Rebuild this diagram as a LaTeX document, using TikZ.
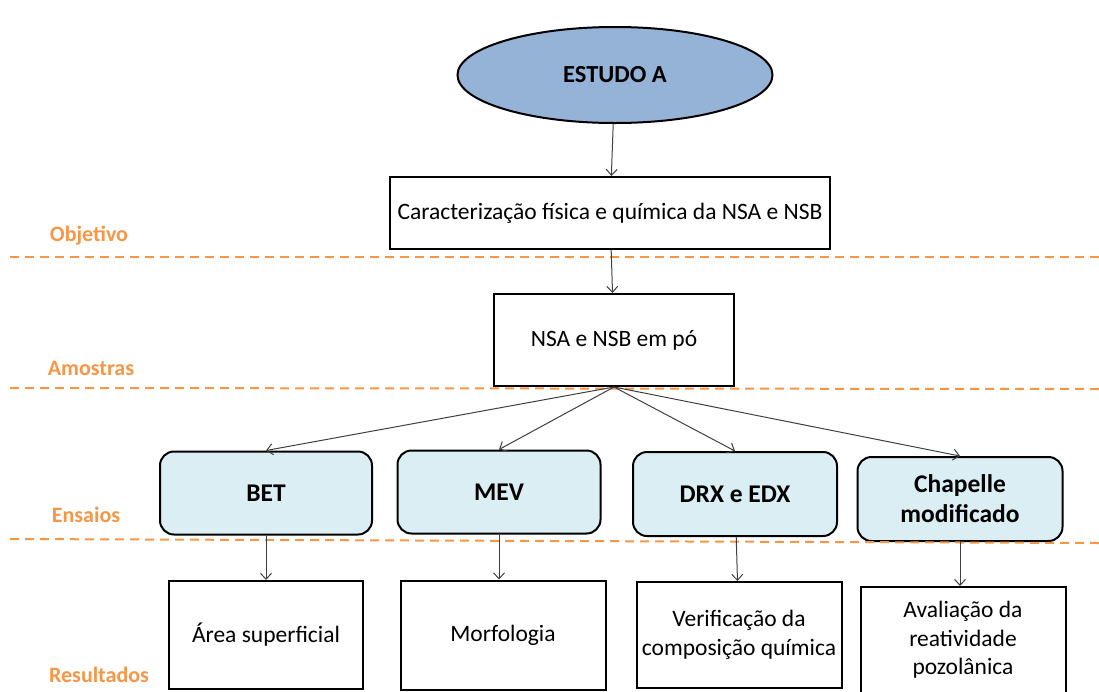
\documentclass[tikz,border=0pt]{standalone}
\usepackage{fontspec}
\setmainfont{Carlito}
\usepackage{xcolor}
\definecolor{studyblue}{HTML}{95B3D7}
\definecolor{testblue}{HTML}{DAEEF3}
\definecolor{steporange}{HTML}{F79646}
\usetikzlibrary{arrows.meta,shapes.geometric}

\begin{document}
\begin{tikzpicture}[->,>={Straight Barb[length=6pt,width=11pt]},x=1pt,y=-1pt,line width=1pt,font=\fontsize{23.5}{28.5}\selectfont]
              \tikzstyle{box}=[draw=black,line width=2pt,fill=white,align=center,inner sep=0pt,text=black]
              \tikzstyle{test}=[box,rounded corners=14pt,fill=testblue,font=\fontsize{25.5}{30}\selectfont\bfseries]
              \tikzstyle{e}=[color=black!75]
              \tikzstyle{stage}=[-,color=steporange,line width=2pt,dash pattern=on 9pt off 6pt]
              \tikzstyle{phase}=[text=steporange,font=\fontsize{22}{26}\selectfont\bfseries]

              \useasboundingbox (0,0) rectangle (1099,691);

              % top
              \node[box,ellipse,fill=studyblue,minimum width=315pt,minimum height=96pt,
                    font=\fontsize{24.5}{28}\selectfont\bfseries] (study) at (615,75) {ESTUDO A};
              \node[box,minimum width=440pt,minimum height=72pt] (goal) at (610,213)
                    {Caracterização física e química da NSA e NSB};
              \node[box,minimum width=240pt,minimum height=92pt] (sample) at (614,340) {NSA e NSB em pó};

              % ensaios
              \node[test,minimum width=212pt,minimum height=83pt] (bet)  at (266,493) {BET};
              \node[test,minimum width=203pt,minimum height=83pt] (mev)  at (499,492) {MEV};
              \node[test,minimum width=204pt,minimum height=84pt] (drx)  at (735,494) {DRX e EDX};
              \node[test,minimum width=205pt,minimum height=84pt] (chap) at (960,499) {Chapelle\\modificado};

              % resultados
              \node[box,minimum width=194pt,minimum height=108pt] (area) at (266,635) {Área superficial};
              \node[box,minimum width=205pt,minimum height=109pt] (morf) at (503,635) {Morfologia};
              \node[box,minimum width=205pt,minimum height=106pt] (comp) at (739,635) {Verificação da\\composição química};
              \node[box,minimum width=205pt,minimum height=106pt] (reat) at (963,640) {Avaliação da\\reatividade\\pozolânica};

              % fases
              \draw[stage] (10,257) -- (1099,257);
              \draw[stage] (10,388) -- (1099,389);
              \draw[stage] (10,539) -- (1099,543);
              \node[phase] (obj) at (89,236)  {Objetivo};
              \node[phase] (amo) at (91,368)  {Amostras};
              \node[phase] (ens) at (86,515)  {Ensaios};
              \node[phase] (res) at (99,675)  {Resultados};

              \path (study) edge [e] (goal)
                    (goal)  edge [e] (sample)
                    (sample.south) edge [e] (bet.north)
                                   edge [e] (mev.north)
                                   edge [e] (drx.north)
                                   edge [e] (chap.north)
                    (bet)   edge [e] (area)
                    (mev)   edge [e] (mev |- morf.north)
                    (drx)   edge [e] (comp)
                    (chap)  edge [e] (chap |- reat.north);
\end{tikzpicture}
\end{document}
